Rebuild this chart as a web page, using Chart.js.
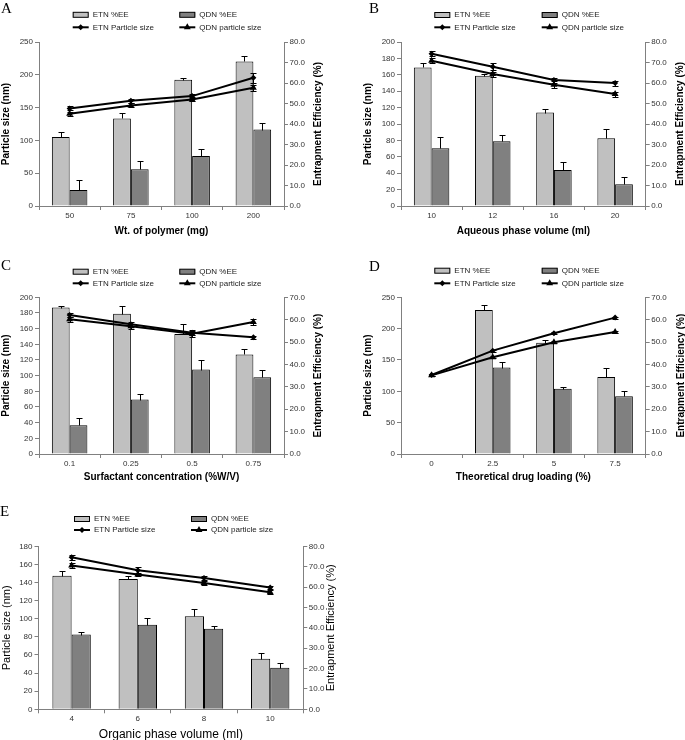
<!DOCTYPE html>
<html>
<head>
<meta charset="utf-8">
<script src="https://cdn.jsdelivr.net/npm/chart.js@4.4.1/dist/chart.umd.min.js"></script>
<style>
  body { margin: 0; width: 685px; height: 740px; overflow: hidden; background: #fff; position: relative; }
  canvas { position: absolute; }
</style>
</head>
<body>
<canvas id="cA" width="340" height="250" style="left:0;top:0"></canvas>
<canvas id="cB" width="345" height="250" style="left:340px;top:0"></canvas>
<canvas id="cC" width="340" height="250" style="left:0;top:250px"></canvas>
<canvas id="cD" width="345" height="250" style="left:340px;top:250px"></canvas>
<canvas id="cE" width="340" height="250" style="left:0;top:500px"></canvas>
<script>
// A - polymer weight
const aCats = ["50", "75", "100", "200"];
const aEtnEE = [33.7, 42.7, 61.6, 70.5];
const aEtnEEErr = [2.4, 2.8, 1.0, 2.9];
const aQdnEE = [7.8, 17.9, 24.4, 37.3];
const aQdnEEErr = [5.1, 3.9, 3.6, 3.4];
const aEtnSize = [148.7, 160.4, 167.5, 195.5];
const aEtnSizeErr = [3, 3, 3, 8];
const aQdnSize = [140.5, 153.3, 162.4, 180.2];
const aQdnSizeErr = [3, 3, 3, 5];

// B - aqueous phase
const bCats = ["10", "12", "16", "20"];
const bEtnEE = [67.6, 63.5, 45.6, 33.1];
const bEtnEEErr = [2.1, 1.0, 1.8, 4.7];
const bQdnEE = [28.2, 31.6, 17.6, 10.6];
const bQdnEEErr = [5.4, 2.8, 4.1, 3.4];
const bEtnSize = [185.7, 169.9, 153.6, 149.9];
const bEtnSizeErr = [3, 4, 3, 3];
const bQdnSize = [177.2, 160.9, 147.9, 136.5];
const bQdnSizeErr = [3, 3, 4, 3];

// C - surfactant
const cCats = ["0.1", "0.25", "0.5", "0.75"];
const cEtnEE = [65.4, 62.7, 53.6, 44.5];
const cEtnEEErr = [0.9, 3.6, 4.5, 2.2];
const cQdnEE = [12.8, 24.3, 37.7, 34.3];
const cQdnEEErr = [3.1, 2.4, 4.2, 3.1];
const cEtnSize = [177.4, 165.5, 154.9, 148.9];
const cEtnSizeErr = [3, 3, 3, 2];
const cQdnSize = [171.9, 163.0, 153.6, 168.5];
const cQdnSizeErr = [3, 3, 4, 4];

// D - drug loading
const dCats = ["0", "2.5", "5", "7.5"];
const dEtnEE = [null, 64.3, 49.7, 34.4];
const dEtnEEErr = [null, 2.1, 1.2, 3.9];
const dQdnEE = [null, 38.6, 29.2, 25.8];
const dQdnEEErr = [null, 2.5, 0.9, 2.2];
const dEtnSize = [126.0, 164.9, 192.6, 217.6];
const dEtnSizeErr = [1.5, 1.5, 1.5, 1.5];
const dQdnSize = [125.5, 154.3, 178.2, 194.7];
const dQdnSizeErr = [1.5, 1.5, 1.5, 1.5];

// E - organic phase
const eCats = ["4", "6", "8", "10"];
const eEtnEE = [65.5, 64.0, 45.7, 24.8];
const eEtnEEErr = [2.4, 1.3, 3.6, 2.9];
const eQdnEE = [36.7, 41.5, 39.5, 20.4];
const eQdnEEErr = [1.0, 3.1, 1.3, 2.3];
const eEtnSize = [167.9, 153.6, 145.1, 134.5];
const eEtnSizeErr = [3, 4, 2, 2];
const eQdnSize = [158.7, 148.8, 139.6, 129.3];
const eQdnSizeErr = [3, 2, 2, 2];

const FONT = "'Liberation Sans', Arial, sans-serif";
const AX = "#808080";
const tickFont = { size: 8, family: FONT };

const errBars = {
  id: "errBars",
  afterDatasetsDraw(c) {
    const ctx = c.ctx;
    ctx.save();
    ctx.strokeStyle = "#000";
    ctx.lineWidth = 1;
    c.data.datasets.forEach((ds, i) => {
      if (!ds.err) return;
      const sc = c.scales[ds.yAxisID];
      const isLine = ds.type === "line";
      c.getDatasetMeta(i).data.forEach((el, j) => {
        const v = ds.data[j], e = ds.err[j];
        if (v == null || !e) return;
        const x = Math.round(el.x) + 0.5;
        const yt = Math.round(sc.getPixelForValue(v + e)) + 0.5;
        const yb = Math.round(sc.getPixelForValue(isLine ? v - e : v)) + 0.5;
        ctx.beginPath();
        ctx.moveTo(x, yb);
        ctx.lineTo(x, yt);
        ctx.moveTo(x - 3, yt);
        ctx.lineTo(x + 3, yt);
        if (isLine) {
          ctx.moveTo(x - 3, yb);
          ctx.lineTo(x + 3, yb);
        }
        ctx.stroke();
      });
    });
    ctx.restore();
  },
};

// panel letter, two-column legend, right axis title (bottom to top like Excel)
const decor = {
  id: "decor",
  afterDraw(c, args, o) {
    const ctx = c.ctx, a = c.chartArea;
    ctx.save();
    ctx.fillStyle = "#000";
    ctx.font = "15px 'Liberation Serif', serif";
    ctx.textBaseline = "alphabetic";
    ctx.fillText(o.letter, o.lx, o.ly);

    ctx.font = `8px ${FONT}`;
    ctx.textBaseline = "middle";
    c.data.datasets.forEach((ds, i) => {
      const x = o.cols[i % 2], y = o.rows[Math.floor(i / 2)];
      if (ds.type === "line") {
        ctx.strokeStyle = "#000";
        ctx.lineWidth = 2;
        ctx.beginPath();
        ctx.moveTo(x, y);
        ctx.lineTo(x + 16, y);
        ctx.stroke();
        ctx.fillStyle = "#000";
        Chart.helpers.drawPoint(ctx, { pointStyle: ds.pointStyle, radius: ds.pointRadius, rotation: 0, borderWidth: 0 }, x + 8, y);
      } else {
        ctx.fillStyle = ds.backgroundColor;
        ctx.fillRect(x, y - 2.5, 16, 5);
        ctx.strokeStyle = "#000";
        ctx.lineWidth = 1;
        ctx.strokeRect(x + 0.5, y - 2.5, 15, 5);
      }
      ctx.fillStyle = "#222";
      ctx.fillText(ds.label, x + 20, y);
    });

    ctx.fillStyle = "#000";
    ctx.font = o.rtFont;
    ctx.translate(o.rtx, (a.top + a.bottom) / 2);
    ctx.rotate(-Math.PI / 2);
    ctx.textAlign = "center";
    ctx.fillText("Entrapment Efficiency (%)", 0, 0);
    ctx.restore();
  },
};

function panel(id, p) {
  const cv = document.getElementById(id);
  const W = cv.width, H = cv.height;
  const ticks = { font: tickFont, color: "#333" };
  const grid = { drawOnChartArea: false, tickLength: 4, color: AX };

  new Chart(cv, {
    type: "bar",
    data: {
      labels: p.cats,
      datasets: [
        { label: "ETN %EE", data: p.etnEE, err: p.etnEEErr, yAxisID: "y1", backgroundColor: "#c0c0c0", borderColor: "#000", borderWidth: 1, order: 2 },
        { label: "QDN %EE", data: p.qdnEE, err: p.qdnEEErr, yAxisID: "y1", backgroundColor: "#808080", borderColor: "#000", borderWidth: 1, order: 2 },
        { type: "line", label: "ETN Particle size", data: p.etnSize, err: p.etnSizeErr, yAxisID: "y", borderColor: "#000", borderWidth: 2, pointStyle: "rectRot", pointRadius: 3, pointBackgroundColor: "#000", pointBorderColor: "#000", pointBorderWidth: 0, fill: false, tension: 0, order: 1 },
        { type: "line", label: "QDN particle size", data: p.qdnSize, err: p.qdnSizeErr, yAxisID: "y", borderColor: "#000", borderWidth: 2, pointStyle: "triangle", pointRadius: 4, pointBackgroundColor: "#000", pointBorderColor: "#000", pointBorderWidth: 0, fill: false, tension: 0, order: 1 },
      ],
    },
    options: {
      responsive: false,
      animation: false,
      devicePixelRatio: 1,
      events: [],
      layout: { padding: { top: p.area.t, left: 0, right: 0, bottom: 0 } },
      datasets: { bar: { categoryPercentage: 0.58, barPercentage: 1 } },
      plugins: {
        legend: { display: false },
        tooltip: { enabled: false },
        decor: { letter: p.letter, lx: p.lx, ly: p.ly, cols: p.cols, rows: p.rows, rtx: p.rtx, rtFont: p.rtFont },
      },
      scales: {
        x: {
          afterFit: (s) => (s.height = H - p.area.b),
          grid: { ...grid, offset: true },
          border: { color: AX },
          ticks: { ...ticks, padding: 1, maxRotation: 0 },
          title: { display: true, text: p.xTitle, font: p.xFont, color: "#000", padding: { top: 0, bottom: p.xtp } },
        },
        y: {
          position: "left",
          min: 0,
          max: p.ymax,
          afterFit: (s) => (s.width = p.area.l),
          grid,
          border: { color: AX },
          ticks: { ...ticks, stepSize: p.ystep, padding: 2 },
          title: { display: true, text: "Particle size (nm)", font: p.yFont, color: "#000", padding: { top: p.ltp, bottom: 0 } },
        },
        y1: {
          position: "right",
          min: 0,
          max: p.y1max,
          afterFit: (s) => (s.width = W - p.area.r),
          grid,
          border: { color: AX },
          ticks: { ...ticks, stepSize: 10, padding: 1.5, callback: (v) => v.toFixed(1) },
        },
      },
    },
    plugins: [errBars, decor],
  });
}

const boldT = { family: FONT, size: 10, weight: "bold" };
const boldRT = `bold 10px ${FONT}`;

panel("cA", {
  cats: aCats, etnEE: aEtnEE, etnEEErr: aEtnEEErr, qdnEE: aQdnEE, qdnEEErr: aQdnEEErr,
  etnSize: aEtnSize, etnSizeErr: aEtnSizeErr, qdnSize: aQdnSize, qdnSizeErr: aQdnSizeErr,
  ymax: 250, ystep: 50, y1max: 80, xTitle: "Wt. of polymer (mg)",
  area: { l: 39, t: 42, r: 284, b: 206 }, letter: "A", lx: 1, ly: 12.7,
  cols: [72.7, 179.3], rows: [14.8, 27.3], rtx: 318.5, ltp: 0, xtp: 13,
  xFont: boldT, yFont: boldT, rtFont: boldRT,
});

panel("cB", {
  cats: bCats, etnEE: bEtnEE, etnEEErr: bEtnEEErr, qdnEE: bQdnEE, qdnEEErr: bQdnEEErr,
  etnSize: bEtnSize, etnSizeErr: bEtnSizeErr, qdnSize: bQdnSize, qdnSizeErr: bQdnSizeErr,
  ymax: 200, ystep: 20, y1max: 80, xTitle: "Aqueous phase volume (ml)",
  area: { l: 61, t: 42, r: 305.7, b: 206 }, letter: "B", lx: 29, ly: 13.3,
  cols: [94.3, 201.7], rows: [15, 27.3], rtx: 340.2, ltp: 22.3, xtp: 13,
  xFont: boldT, yFont: boldT, rtFont: boldRT,
});

panel("cC", {
  cats: cCats, etnEE: cEtnEE, etnEEErr: cEtnEEErr, qdnEE: cQdnEE, qdnEEErr: cQdnEEErr,
  etnSize: cEtnSize, etnSizeErr: cEtnSizeErr, qdnSize: cQdnSize, qdnSizeErr: cQdnSizeErr,
  ymax: 200, ystep: 20, y1max: 70, xTitle: "Surfactant concentration (%W/V)",
  area: { l: 39, t: 47.3, r: 284, b: 204 }, letter: "C", lx: 1, ly: 20,
  cols: [72.7, 179.3], rows: [21.7, 33.3], rtx: 318.5, ltp: 0, xtp: 16.3,
  xFont: boldT, yFont: boldT, rtFont: boldRT,
});

panel("cD", {
  cats: dCats, etnEE: dEtnEE, etnEEErr: dEtnEEErr, qdnEE: dQdnEE, qdnEEErr: dQdnEEErr,
  etnSize: dEtnSize, etnSizeErr: dEtnSizeErr, qdnSize: dQdnSize, qdnSizeErr: dQdnSizeErr,
  ymax: 250, ystep: 50, y1max: 70, xTitle: "Theoretical drug loading (%)",
  area: { l: 61, t: 47.3, r: 305.7, b: 204 }, letter: "D", lx: 29, ly: 20.7,
  cols: [94.3, 201.7], rows: [20.7, 33.3], rtx: 341.5, ltp: 22.3, xtp: 16.3,
  xFont: boldT, yFont: boldT, rtFont: boldRT,
});

panel("cE", {
  cats: eCats, etnEE: eEtnEE, etnEEErr: eEtnEEErr, qdnEE: eQdnEE, qdnEEErr: eQdnEEErr,
  etnSize: eEtnSize, etnSizeErr: eEtnSizeErr, qdnSize: eQdnSize, qdnSizeErr: eQdnSizeErr,
  ymax: 180, ystep: 20, y1max: 80, xTitle: "Organic phase volume (ml)",
  area: { l: 38.5, t: 46.3, r: 303.3, b: 209.3 }, letter: "E", lx: 0, ly: 16,
  cols: [74, 191], rows: [19, 30], rtx: 331, ltp: 0, xtp: 7.8,
  xFont: { family: FONT, size: 12 }, yFont: { family: FONT, size: 11 }, rtFont: `11px ${FONT}`,
});
</script>
</body>
</html>
